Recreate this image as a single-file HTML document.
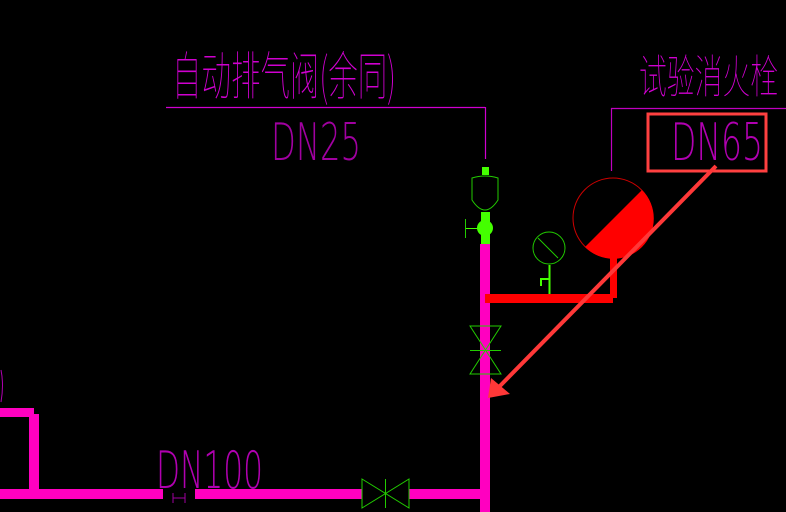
<!DOCTYPE html>
<html><head><meta charset="utf-8"><style>html,body{margin:0;padding:0;background:#000;width:786px;height:512px;overflow:hidden}
.t{font-family:"DejaVu Sans","Noto Sans CJK SC",sans-serif;font-weight:200}
.c{font-family:"Noto Sans CJK SC","WenQuanYi Zen Hei",sans-serif;font-weight:100}</style></head>
<body>
<svg width="786" height="512" viewBox="0 0 786 512" xmlns="http://www.w3.org/2000/svg">
<rect width="786" height="512" fill="#000"/>
<text class="c" x="172" y="95" font-size="52" fill="#d000d0" textLength="224" lengthAdjust="spacingAndGlyphs">自动排气阀(余同)</text>
<line x1="166" y1="107.5" x2="485" y2="107.5" stroke="#d000d0" stroke-width="1.2"/>
<line x1="485.5" y1="107" x2="485.5" y2="159" stroke="#d000d0" stroke-width="1.2"/>
<text class="t" x="271" y="160" font-size="52" fill="#a000a0" textLength="90" lengthAdjust="spacingAndGlyphs">DN25</text>
<text class="c" x="639" y="93" font-size="46" fill="#d000d0" textLength="139" lengthAdjust="spacingAndGlyphs">试验消火栓</text>
<line x1="611" y1="108.5" x2="786" y2="108.5" stroke="#c000c0" stroke-width="1.2"/>
<line x1="611.5" y1="108" x2="611.5" y2="171" stroke="#c000c0" stroke-width="1.2"/>
<text class="t" x="671" y="160" font-size="52" fill="#b000b0" textLength="92" lengthAdjust="spacingAndGlyphs">DN65</text>
<rect x="648" y="114" width="118" height="57" fill="none" stroke="#ff4040" stroke-width="3"/>
<rect x="480" y="244" width="10" height="268" fill="#ff00c0"/>
<rect x="0" y="489" width="163" height="10" fill="#ff00c0"/>
<rect x="195" y="489" width="167" height="10" fill="#ff00c0"/>
<rect x="409" y="489" width="76" height="10" fill="#ff00c0"/>
<rect x="0" y="408" width="34" height="9" fill="#ff00c0"/>
<rect x="29" y="414" width="10" height="80" fill="#ff00c0"/>
<path d="M1 370 Q4 385 1 402" fill="none" stroke="#b000b0" stroke-width="1"/>
<text class="t" x="156" y="488" font-size="52" fill="#b000b0" textLength="107" lengthAdjust="spacingAndGlyphs">DN100</text>
<path d="M173 493 V503 M185 493 V503 M173 498 H185" stroke="#a000a0" stroke-width="1"/>
<path d="M362 479 L409 508 V479 L362 508 Z" fill="none" stroke="#22cc00" stroke-width="1"/>
<line x1="385.5" y1="479" x2="385.5" y2="508" stroke="#22cc00" stroke-width="1"/>
<path d="M470 326 H501 L470 374 H501 Z" fill="none" stroke="#22cc00" stroke-width="1"/>
<line x1="470" y1="350.5" x2="501" y2="350.5" stroke="#22cc00" stroke-width="1"/>
<rect x="482" y="167" width="7" height="8" fill="#44ff00"/>
<path d="M472 178 Q485 174 498 178 V200 Q485 220 472 200 Z" fill="none" stroke="#22cc00" stroke-width="1"/>
<rect x="481" y="212" width="9" height="32" fill="#44ff00"/>
<circle cx="485" cy="228" r="8" fill="#44ff00"/>
<line x1="466" y1="228.5" x2="478" y2="228.5" stroke="#44ff00" stroke-width="1"/>
<line x1="465.5" y1="219" x2="465.5" y2="238" stroke="#22cc00" stroke-width="1"/>
<circle cx="549" cy="248" r="16" fill="none" stroke="#22cc00" stroke-width="1"/>
<line x1="538" y1="238" x2="558" y2="258" stroke="#22cc00" stroke-width="1"/>
<line x1="549.5" y1="265" x2="549.5" y2="295" stroke="#44ff00" stroke-width="2"/>
<path d="M549 279 H541 V286" fill="none" stroke="#44ff00" stroke-width="2"/>
<rect x="485" y="294" width="128" height="9" fill="#ff0000"/>
<rect x="610" y="258" width="7" height="40" fill="#ff0000"/>
<circle cx="613" cy="218" r="40" fill="none" stroke="#cc0000" stroke-width="1"/>
<path d="M585 247 L642 190 A40 40 0 0 1 585 247 Z" fill="#ff0000"/>
<line x1="716" y1="166" x2="496" y2="390" stroke="#ff3838" stroke-width="4"/>
<path d="M488 398 L491 378 L510 394 Z" fill="#ff3838"/>
</svg>
</body></html>
